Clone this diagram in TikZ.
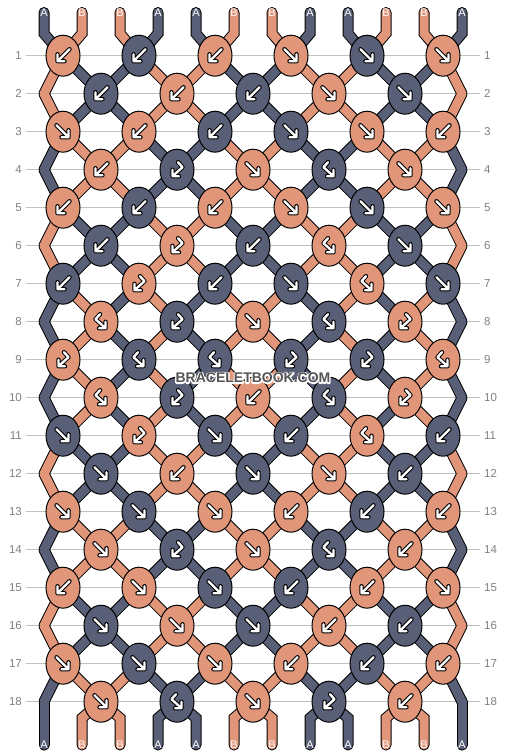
\documentclass[tikz,border=0pt]{standalone}
\usepackage{fontspec}
\setmainfont{Liberation Sans}
\usepackage{tikz}
\usetikzlibrary{shapes.geometric}
\usetikzlibrary{calc}

\definecolor{cA}{RGB}{88,95,118}
\definecolor{cB}{RGB}{225,150,122}
\definecolor{rowline}{RGB}{192,192,192}
\definecolor{rownum}{RGB}{128,128,128}
\definecolor{wmark}{RGB}{85,85,85}

\pgfdeclarelayer{bg}
\pgfdeclarelayer{sk}
\pgfdeclarelayer{sc}
\pgfsetlayers{bg,sk,sc,main}

\newcommand{\strand}[2]{%
  \begin{pgfonlayer}{sk}\draw[line width=11pt,line cap=round,black] #2;\end{pgfonlayer}%
  \begin{pgfonlayer}{sc}\draw[line width=9pt,line cap=round,#1] #2;\end{pgfonlayer}}
\newcommand{\halo}[1]{\special{pdf:literal direct 1 Tr 2.6 w 1 j 1 1 1 RG}#1\special{pdf:literal direct 0 Tr}}

\tikzset{
  knot/.style={ellipse,draw=black,line width=1pt,minimum width=34pt,minimum height=41pt,inner sep=0pt,fill=c#1},
  arr/.style={line cap=round,line join=round},
  g-l/.pic={\foreach \w/\k in {4.4/black,2.4/white}
    \draw[arr,line width=\w pt,\k] (6.5,-6.5) -- (-5.5,5.5) (-5.5,-1.5) -- (-5.5,5.5) -- (1.5,5.5);},
  g-r/.pic={\foreach \w/\k in {4.4/black,2.4/white}
    \draw[arr,line width=\w pt,\k] (-6.5,-6.5) -- (5.5,5.5) (5.5,-1.5) -- (5.5,5.5) -- (-1.5,5.5);},
  g-L/.pic={\foreach \w/\k in {4.4/black,2.4/white}
    \draw[arr,line width=\w pt,\k] (1,-7.5) -- (5.5,-2.5) -- (-4.5,6.5) (-4.5,0) -- (-4.5,6.5) -- (2,6.5);},
  g-R/.pic={\foreach \w/\k in {4.4/black,2.4/white}
    \draw[arr,line width=\w pt,\k] (-1,-7.5) -- (-5.5,-2.5) -- (4.5,6.5) (4.5,0) -- (4.5,6.5) -- (-2,6.5);},
  slab/.style={text=white,font=\fontsize{11}{11}\selectfont,inner sep=0pt},
  rnum/.style={text=rownum,font=\fontsize{11.5}{12}\selectfont,inner sep=0pt},
  wm/.style={font=\bfseries\fontsize{14}{14}\selectfont,inner sep=0pt}
}

\begin{document}
\begin{tikzpicture}[x=1pt,y=-1pt]
\useasboundingbox (0,0) rectangle (506,756);

\foreach \r in {1,...,18} {
  \node[rnum,anchor=east] (ln\r) at (22,17.7+38*\r) {\r};
  \node[rnum,anchor=west] (rn\r) at (484,17.7+38*\r) {\r};
  \begin{pgfonlayer}{bg}
    \draw[rowline,line width=1.2pt,shorten <=4pt,shorten >=4pt] (ln\r.east) -- (rn\r.west);
  \end{pgfonlayer}
}

\foreach \r/\lst in {
  1/{B/l,A/l,B/l,B/r,A/r,B/r},
  2/{A/l,B/l,A/l,B/r,A/r},
  3/{B/r,B/l,A/l,A/r,B/r,B/l},
  4/{B/l,A/L,B/r,A/R,B/r},
  5/{B/l,A/l,B/l,B/r,A/r,B/r},
  6/{A/l,B/L,A/l,B/R,A/r},
  7/{A/l,B/L,A/l,A/r,B/R,A/r},
  8/{B/R,A/L,B/r,A/R,B/L},
  9/{B/L,A/R,A/R,A/L,A/L,B/R},
  10/{B/R,A/L,B/l,A/R,B/L},
  11/{A/r,B/L,A/r,A/l,B/R,A/l},
  12/{A/r,B/l,A/r,B/r,A/l},
  13/{B/r,A/r,B/r,B/l,A/l,B/l},
  14/{B/r,A/L,B/r,A/R,B/l},
  15/{B/l,B/r,A/r,A/l,B/l,B/r},
  16/{A/r,B/r,A/r,B/l,A/l},
  17/{B/r,A/r,B/r,B/l,A/l,B/l},
  18/{B/r,A/R,B/r,A/L,B/l}} {
  \foreach \c/\t [count=\i] in \lst {
    \pgfmathsetmacro\kx{isodd(\r) ? 76*\i-13 : 76*\i+25}
    \node[knot=\c] (k\r-\i) at (\kx,17.7+38*\r) {};
    \pic at (k\r-\i) {g-\t};
  }
}

\foreach \r in {2,4,...,18} {
  \coordinate (k\r-0) at (44,17.7+38*\r);
  \coordinate (k\r-6) at (462,17.7+38*\r);
}

\foreach \c [count=\p] in {A,B,B,A,A,B,B,A,A,B,B,A} {
  \pgfmathtruncatemacro\i{(\p+1)/2}
  \pgfmathtruncatemacro\j{\p/2}
  \node[slab] (t\p) at (6+38*\p,12.5) {\c};
  \node[slab] (b\p) at (6+38*\p,745) {\c};
  \strand{c\c}{(t\p.center) -- ++(0,21) -- (k1-\i.center)}
  \strand{c\c}{(b\p.center) -- ++(0,-27) -- (k18-\j.center)}
}

\foreach \r/\st in {
  1/{B,A,A,B,B,A,A,B,B,A,A,B},
  2/{B,A,A,B,B,A,A,B,B,A,A,B},
  3/{A,B,B,A,A,B,B,A,A,B,B,A},
  4/{A,B,B,A,A,B,B,A,A,B,B,A},
  5/{B,A,A,B,B,A,A,B,B,A,A,B},
  6/{B,A,A,B,B,A,A,B,B,A,A,B},
  7/{A,B,A,B,A,B,B,A,B,A,B,A},
  8/{A,B,A,B,A,B,B,A,B,A,B,A},
  9/{A,B,A,B,A,B,B,A,B,A,B,A},
  10/{A,B,A,B,A,B,B,A,B,A,B,A},
  11/{B,A,A,B,B,A,A,B,B,A,A,B},
  12/{B,A,A,B,B,A,A,B,B,A,A,B},
  13/{A,B,B,A,A,B,B,A,A,B,B,A},
  14/{A,B,B,A,A,B,B,A,A,B,B,A},
  15/{B,A,A,B,B,A,A,B,B,A,A,B},
  16/{B,A,A,B,B,A,A,B,B,A,A,B},
  17/{A,B,B,A,A,B,B,A,A,B,B,A}} {
  \pgfmathtruncatemacro\rn{\r+1}
  \foreach \c [count=\p] in \st {
    \pgfmathtruncatemacro\ia{isodd(\r) ? (\p+1)/2 : \p/2}
    \pgfmathtruncatemacro\ib{isodd(\r) ? \p/2 : (\p+1)/2}
    \strand{c\c}{(k\r-\ia.center) -- (k\rn-\ib.center)}
  }
}

\node[wm,text=wmark] (wm) at (253,378) {\rlap{\halo{BRACELETBOOK.COM}}BRACELETBOOK.COM};
\end{tikzpicture}
\end{document}
